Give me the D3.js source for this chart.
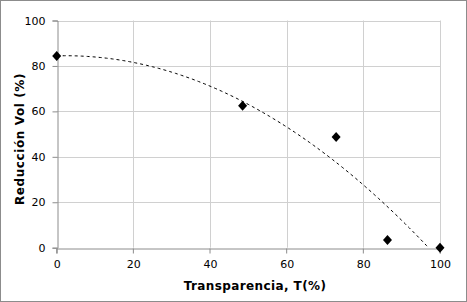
<!DOCTYPE html>
<html><head><meta charset="utf-8">
<script src="https://cdn.jsdelivr.net/npm/d3@7"></script>
<style>body{margin:0;background:#fff}svg{display:block}</style>
</head><body>
<script>
const xValues = [0, 48.5, 72.9, 86.3, 100];
const yValues = [84.4, 62.5, 48.7, 3.4, 0];
const xTicks = [0, 20, 40, 60, 80, 100];
const yTicks = [0, 20, 40, 60, 80, 100];
const xTitle = "Transparencia, T(%)";
const yTitle = "Reducción Vol (%)";

const W = 467, H = 302;
const m = {l: 56.7, r: 467 - 440, t: 20.5, b: 302 - 247.7};
const svg = d3.select("body").append("svg").attr("width", W).attr("height", H);
svg.append("rect").attr("x", 0.5).attr("y", 0.5).attr("width", W - 1).attr("height", H - 1)
  .attr("fill", "#fff").attr("stroke", "#8c8c8c");

const x = d3.scaleLinear().domain([0, 100]).range([m.l, W - m.r]);
const y = d3.scaleLinear().domain([0, 100]).range([H - m.b, m.t]);

const font = "DejaVu Sans, Verdana, sans-serif";
const g = svg.append("g");
// grid
g.selectAll(".gx").data(xTicks.filter(d => d > 0)).join("line")
  .attr("x1", d => Math.round(x(d)) + 0.5).attr("x2", d => Math.round(x(d)) + 0.5)
  .attr("y1", y(100)).attr("y2", y(0)).attr("stroke", "#d0d0d0");
g.selectAll(".gy").data(yTicks.filter(d => d > 0)).join("line")
  .attr("y1", d => Math.round(y(d)) + 0.5).attr("y2", d => Math.round(y(d)) + 0.5)
  .attr("x1", x(0)).attr("x2", x(100)).attr("stroke", "#d0d0d0");

// axes
const xAxis = d3.axisBottom(x).tickValues(xTicks).tickSize(5).tickPadding(7);
const yAxis = d3.axisLeft(y).tickValues(yTicks).tickSize(5).tickPadding(7);
const ax = svg.append("g").attr("transform", `translate(0,${Math.round(y(0)) + 0.5})`).call(xAxis);
const ay = svg.append("g").attr("transform", `translate(${Math.round(x(0)) + 0.5},0)`).call(yAxis);
[ax, ay].forEach(a => {
  a.selectAll("path.domain").attr("stroke", "#8c8c8c");
  a.selectAll(".tick line").attr("stroke", "#8c8c8c");
  a.selectAll("text").attr("font-family", font).attr("font-size", 11).attr("fill", "#000");
});
ax.selectAll(".tick line").attr("transform", "translate(-0.5,0)");

// quadratic least-squares trendline from data
function polyfit2(xs, ys) {
  const S = k => d3.sum(xs, v => Math.pow(v, k));
  const T = k => d3.sum(xs.map((v, i) => Math.pow(v, k) * ys[i]));
  const A = [[S(0), S(1), S(2), T(0)], [S(1), S(2), S(3), T(1)], [S(2), S(3), S(4), T(2)]];
  for (let i = 0; i < 3; i++) {
    for (let j = i + 1; j < 3; j++) {
      const f = A[j][i] / A[i][i];
      for (let k = i; k < 4; k++) A[j][k] -= f * A[i][k];
    }
  }
  const c = [0, 0, 0];
  for (let i = 2; i >= 0; i--) {
    let s = A[i][3];
    for (let k = i + 1; k < 3; k++) s -= A[i][k] * c[k];
    c[i] = s / A[i][i];
  }
  return c;
}
const coef = polyfit2(xValues, yValues);
const trend = d3.range(0, 100.01, 0.5).map(v => [v, coef[0] + coef[1] * v + coef[2] * v * v]);
svg.append("clipPath").attr("id", "clip").append("rect")
  .attr("x", x(0)).attr("y", y(100)).attr("width", x(100) - x(0)).attr("height", y(0) - y(100));
svg.append("path").datum(trend).attr("clip-path", "url(#clip)")
  .attr("d", d3.line().x(d => x(d[0])).y(d => y(d[1])))
  .attr("fill", "none").attr("stroke", "#000").attr("stroke-width", 1).attr("stroke-dasharray", "3,3");

// markers
const pts = xValues.map((v, i) => [v, yValues[i]]);
svg.selectAll(".pt").data(pts).join("path")
  .attr("d", d => { const cx = x(d[0]), cy = y(d[1]); return `M${cx},${cy - 5}L${cx + 4.5},${cy}L${cx},${cy + 5}L${cx - 4.5},${cy}Z`; })
  .attr("fill", "#000");

// titles
svg.append("text").attr("x", 255).attr("y", 290).attr("text-anchor", "middle")
  .attr("font-family", font).attr("font-size", 12).attr("font-weight", "bold")
  .attr("letter-spacing", 0.4).text(xTitle);
svg.append("text").attr("transform", `translate(24,139) rotate(-90)`).attr("text-anchor", "middle")
  .attr("font-family", font).attr("font-size", 12).attr("font-weight", "bold")
  .attr("letter-spacing", 0.6).text(yTitle);
</script>
</body></html>
